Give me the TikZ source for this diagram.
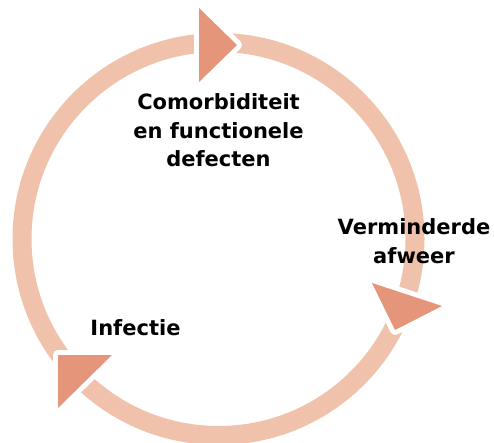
\documentclass[tikz,border=0pt]{standalone}
\usepackage{fontspec}
\setmainfont{DejaVu Sans}
\definecolor{ringcol}{HTML}{F0C2AC}
\definecolor{tricol}{HTML}{E5967A}
\tikzset{
  ring/.style={draw=ringcol, line width=19pt},
  halo/.style={draw=white, fill=white, line width=10pt, line join=round},
  arrowhead/.style={fill=tricol},
  lbl/.style={font=\bfseries\fontsize{21}{28.5}\selectfont, align=center, anchor=base, inner sep=0pt}
}
\begin{document}
\begin{tikzpicture}[x=1pt,y=-1pt]
\useasboundingbox (0,0) rectangle (494,443);
\coordinate (c) at (218.5,239);
\draw[ring] (c) circle[radius=196.5pt];
% top arrowhead
\coordinate (t1) at (199,8); \coordinate (t2) at (199,82); \coordinate (t3) at (237,45);
\path[halo] (t1) -- (t3) -- (t2) -- cycle;
\path[arrowhead] (t1) -- (t3) -- (t2) -- cycle;
% right arrowhead
\coordinate (r1) at (372,283); \coordinate (r2) at (442,306); \coordinate (r3) at (395,330);
\path[halo] (r1) -- (r2) -- (r3) -- cycle;
\path[arrowhead] (r1) -- (r2) -- (r3) -- cycle;
% left arrowhead
\coordinate (l1) at (58,355); \coordinate (l2) at (112,355); \coordinate (l3) at (58,408);
\path[halo] (l1) -- (l2) -- (l3) -- cycle;
\path[arrowhead] (l1) -- (l2) -- (l3) -- cycle;
% labels (anchor = baseline of last line)
\node[lbl] (como) at (218.5,167) {Comorbiditeit\\en functionele\\defecten};
\node[lbl] (verm) at (414,263) {Verminderde\\afweer};
\node[lbl] (inf) at (135.5,335) {Infectie};
\end{tikzpicture}
\end{document}
